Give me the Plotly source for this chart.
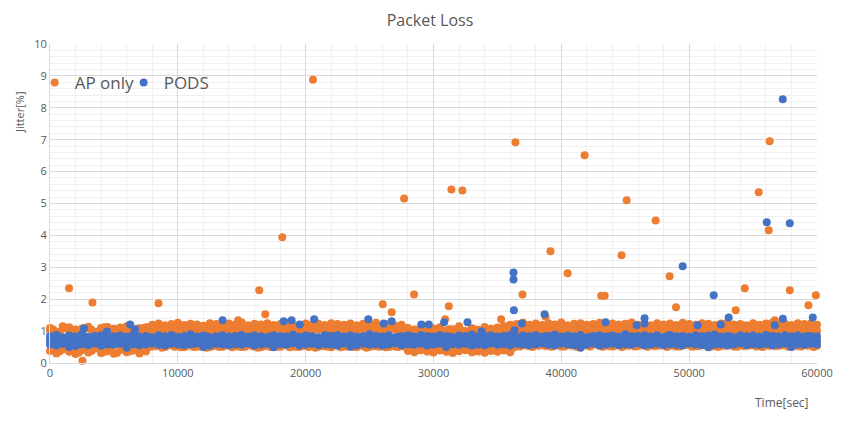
"""
packet_loss.py
--------------
Jitter scatter over a 60000 s run: AP only vs PODS.
"""

import plotly.graph_objects as go

# ── DATA ──────────────────────────────────────────────────────────────────────

# sampling instants of the dense band (sec): two interleaved schedules
TIMES   = list(range(0, 60001, 500))
TIMES_S = list(range(250, 60000, 500))

# AP only – dense band readings
ap_low = [
    0.38, 0.30, 0.42, 0.35, 0.28, 0.40, 0.33, 0.45, 0.31, 0.37,
    0.29, 0.41, 0.34, 0.39, 0.30, 0.36,
    0.52, 0.55, 0.50, 0.57, 0.53, 0.49, 0.56, 0.52, 0.54, 0.50,
    0.55, 0.51, 0.58, 0.53, 0.50, 0.56, 0.52, 0.49, 0.55, 0.53,
    0.51, 0.57, 0.52, 0.50, 0.54, 0.56, 0.51, 0.53, 0.49, 0.55,
    0.52, 0.57, 0.50, 0.54, 0.51, 0.53, 0.56, 0.50, 0.52, 0.55,
    0.38, 0.34, 0.40, 0.36, 0.33, 0.39, 0.35, 0.31, 0.37, 0.40,
    0.34, 0.36, 0.32, 0.38, 0.35, 0.39, 0.34,
    0.55, 0.58, 0.53, 0.56, 0.60, 0.54, 0.57, 0.52, 0.58, 0.55,
    0.53, 0.57, 0.59, 0.54, 0.56, 0.52, 0.58, 0.55, 0.57, 0.53,
    0.56, 0.60, 0.54, 0.57, 0.55, 0.52, 0.58, 0.56, 0.53, 0.57,
    0.55, 0.59, 0.54, 0.56, 0.52, 0.58, 0.55, 0.57, 0.53, 0.56,
    0.58, 0.54, 0.57, 0.55, 0.53, 0.59, 0.56, 0.54,
]
ap_mid = [
    1.02, 0.95, 1.08, 0.98, 1.05, 0.92, 1.10, 0.97, 1.03, 0.94,
    1.07, 0.99, 0.93, 1.06, 1.00, 1.04,
    1.00, 1.05, 0.97, 1.03, 0.99, 1.06, 0.96, 1.02, 1.04, 0.98,
    1.01, 0.97, 1.05, 1.00, 1.03, 0.96, 1.04, 0.99, 1.02, 0.98,
    1.06, 1.00, 0.97, 1.03, 1.01, 0.99, 1.05, 0.96, 1.02, 1.00,
    1.04, 0.98, 1.01, 1.06, 0.97, 1.03, 0.99, 1.02, 1.05, 0.98,
    0.95, 1.00, 0.93, 0.98, 1.02, 0.94, 0.97, 1.01, 0.92, 0.99,
    0.96, 1.03, 0.94, 0.98, 1.00, 0.95, 1.02,
    1.02, 0.99, 1.05, 1.01, 0.98, 1.04, 1.00, 1.03, 0.97, 1.06,
    1.01, 0.99, 1.04, 1.02, 0.98, 1.05, 1.00, 1.03, 0.99, 1.02,
    1.06, 0.98, 1.01, 1.04, 1.00, 0.97, 1.03, 1.05, 0.99, 1.02,
    1.00, 1.04, 0.98, 1.03, 1.01, 1.06, 0.99, 1.02, 1.04, 1.00,
    0.98, 1.05, 1.01, 1.03, 0.99, 1.04, 1.02, 1.00,
]
ap_top = [
    1.10, 0.90, 1.15, 1.12, 0.95, 1.08, 1.14, 0.88, 1.10, 1.13,
    0.92, 1.11, 1.15, 0.90, 1.09, 1.12,
    1.20, 1.24, 1.18, 1.22, 1.26, 1.19, 1.23, 1.21, 1.17, 1.25,
    1.22, 1.19, 1.24, 1.20, 1.27, 1.18, 1.23, 1.21, 1.25, 1.19,
    1.22, 1.26, 1.20, 1.18, 1.24, 1.21, 1.23, 1.19, 1.25, 1.22,
    1.20, 1.24, 1.18, 1.23, 1.21, 1.26, 1.19, 1.22, 1.17, 1.20,
    1.10, 1.05, 1.14, 0.98, 1.08, 1.12, 1.02, 1.06, 1.15, 1.00,
    1.09, 1.04, 1.13, 1.07, 1.11, 1.16, 1.20,
    1.22, 1.26, 1.20, 1.24, 1.19, 1.25, 1.21, 1.27, 1.18, 1.23,
    1.25, 1.20, 1.22, 1.26, 1.19, 1.24, 1.21, 1.23, 1.27, 1.20,
    1.22, 1.18, 1.25, 1.21, 1.24, 1.19, 1.26, 1.22, 1.20, 1.25,
    1.23, 1.19, 1.24, 1.27, 1.21, 1.22, 1.18, 1.25, 1.20, 1.24,
    1.26, 1.21, 1.23, 1.19, 1.25, 1.22, 1.24, 1.20,
]
# readings on the interleaved schedule
ap_low_s = [
    0.45, 0.36, 0.48, 0.40, 0.33, 0.43, 0.38, 0.47, 0.35, 0.41,
    0.32, 0.44, 0.37, 0.42, 0.46,
    0.50, 0.53, 0.48, 0.55, 0.51, 0.49, 0.54, 0.50, 0.52, 0.48,
    0.53, 0.50, 0.55, 0.49, 0.52, 0.51, 0.54, 0.48, 0.53, 0.50,
    0.52, 0.55, 0.49, 0.51, 0.54, 0.50, 0.48, 0.53, 0.51, 0.55,
    0.49, 0.52, 0.50, 0.54, 0.48, 0.53, 0.51, 0.49, 0.55, 0.50, 0.52,
    0.44, 0.40, 0.46, 0.38, 0.43, 0.41, 0.47, 0.39, 0.45, 0.42,
    0.37, 0.44, 0.40, 0.46, 0.41, 0.43, 0.48,
    0.52, 0.55, 0.50, 0.54, 0.53, 0.51, 0.56, 0.52, 0.55, 0.50,
    0.54, 0.52, 0.57, 0.51, 0.53, 0.55, 0.50, 0.54, 0.52, 0.56,
    0.51, 0.53, 0.55, 0.50, 0.54, 0.52, 0.57, 0.51, 0.53, 0.55,
    0.52, 0.50, 0.54, 0.56, 0.51, 0.53, 0.55, 0.52, 0.50, 0.54,
    0.53, 0.56, 0.51, 0.55, 0.52, 0.54, 0.50,
]
ap_up_s = [
    1.05, 0.98, 1.10, 1.02, 0.96, 1.08, 1.04, 0.99, 1.12, 1.00,
    0.97, 1.06, 1.03, 0.95, 1.09,
    1.12, 1.15, 1.09, 1.14, 1.11, 1.16, 1.10, 1.13, 1.08, 1.15,
    1.12, 1.10, 1.14, 1.17, 1.11, 1.09, 1.13, 1.16, 1.10, 1.12,
    1.15, 1.11, 1.08, 1.14, 1.12, 1.16, 1.09, 1.13, 1.11, 1.15,
    1.10, 1.14, 1.12, 1.08, 1.16, 1.11, 1.13, 1.09, 1.15, 1.12, 1.10,
    1.00, 0.96, 1.04, 0.98, 1.02, 0.95, 1.06, 0.99, 1.01, 0.97,
    1.05, 0.98, 1.03, 0.96, 1.08, 1.12, 1.10,
    1.13, 1.16, 1.10, 1.14, 1.12, 1.17, 1.09, 1.15, 1.11, 1.13,
    1.16, 1.10, 1.14, 1.12, 1.18, 1.11, 1.13, 1.09, 1.15, 1.12,
    1.14, 1.17, 1.10, 1.13, 1.11, 1.16, 1.12, 1.09, 1.15, 1.13,
    1.11, 1.14, 1.17, 1.10, 1.12, 1.15, 1.13, 1.09, 1.16, 1.11,
    1.14, 1.12, 1.10, 1.15, 1.13, 1.17, 1.11,
]

# AP only – isolated readings
ap_out_x = [1490, 2540, 3320, 8490, 14720, 16370, 16840, 18170, 20570, 26030,
            26730, 27700, 28480, 30910, 31200, 31400, 32260, 35290, 36410, 36960,
            38760, 39150, 40490, 41820, 43120, 43390, 44710, 45110, 47380, 48470,
            48970, 53640, 54350, 55440, 56220, 56300, 56700, 57870, 59330, 59910]
ap_out_y = [2.34, 0.07, 1.90, 1.87, 1.34, 2.28, 1.53, 3.94, 8.88, 1.84,
            1.59, 5.16, 2.15, 1.37, 1.78, 5.44, 5.41, 1.37, 6.92, 2.15,
            1.45, 3.50, 2.81, 6.51, 2.11, 2.11, 3.38, 5.10, 4.47, 2.72,
            1.75, 1.65, 2.34, 5.35, 4.16, 6.95, 1.34, 2.28, 1.81, 2.12]

# PODS – dense band readings
pods_low = [
    0.58, 0.55, 0.60, 0.50, 0.53, 0.59, 0.56, 0.61, 0.54, 0.58,
    0.57, 0.60, 0.48, 0.59, 0.56, 0.58, 0.61, 0.57, 0.55, 0.60,
    0.58, 0.56, 0.59, 0.62, 0.50, 0.55, 0.60, 0.58, 0.56, 0.59,
    0.57, 0.61, 0.55, 0.58, 0.60, 0.49, 0.59, 0.57, 0.62, 0.55,
    0.58, 0.60, 0.56, 0.59, 0.57, 0.55, 0.61, 0.51, 0.56, 0.60,
    0.57, 0.59, 0.55, 0.58, 0.62, 0.56, 0.59, 0.57, 0.60, 0.55,
    0.58, 0.61, 0.50, 0.59, 0.57, 0.60, 0.55, 0.58, 0.56, 0.61,
    0.57, 0.59, 0.55, 0.60, 0.58, 0.56, 0.59, 0.62, 0.57, 0.55,
    0.60, 0.58, 0.56, 0.48, 0.57, 0.61, 0.55, 0.58, 0.60, 0.56,
    0.59, 0.57, 0.62, 0.55, 0.58, 0.60, 0.56, 0.59, 0.57, 0.55,
    0.61, 0.58, 0.56, 0.49, 0.57, 0.59, 0.55, 0.58, 0.62, 0.56,
    0.59, 0.57, 0.60, 0.55, 0.58, 0.61, 0.50, 0.59, 0.57, 0.60,
    0.58,
]
pods_mid = [
    0.71, 0.68, 0.74, 0.70, 0.72, 0.67, 0.73, 0.69, 0.75, 0.71,
    0.70, 0.73, 0.68, 0.72, 0.74, 0.69, 0.71, 0.75, 0.70, 0.67,
    0.72, 0.74, 0.69, 0.71, 0.73, 0.68, 0.70, 0.75, 0.72, 0.69,
    0.71, 0.67, 0.74, 0.70, 0.72, 0.73, 0.68, 0.71, 0.69, 0.74,
    0.70, 0.72, 0.75, 0.68, 0.71, 0.73, 0.69, 0.70, 0.74, 0.72,
    0.67, 0.71, 0.73, 0.70, 0.68, 0.74, 0.72, 0.69, 0.71, 0.75,
    0.70, 0.68, 0.73, 0.71, 0.69, 0.74, 0.72, 0.70, 0.67, 0.73,
    0.71, 0.75, 0.69, 0.72, 0.70, 0.68, 0.74, 0.71, 0.73, 0.69,
    0.72, 0.70, 0.67, 0.74, 0.71, 0.73, 0.69, 0.75, 0.70, 0.72,
    0.68, 0.71, 0.74, 0.69, 0.73, 0.70, 0.72, 0.67, 0.71, 0.74,
    0.70, 0.73, 0.69, 0.72, 0.75, 0.68, 0.71, 0.70, 0.74, 0.72,
    0.69, 0.73, 0.71, 0.67, 0.70, 0.74, 0.72, 0.69, 0.71, 0.73,
    0.70,
]
pods_top = [
    0.84, 0.88, 0.81, 0.86, 0.83, 0.90, 0.82, 0.85, 0.87, 0.80,
    0.84, 0.86, 0.82, 0.89, 0.83, 0.85, 0.81, 0.87, 0.84, 0.88,
    0.82, 0.85, 0.90, 0.83, 0.86, 0.81, 0.84, 0.87, 0.83, 0.85,
    0.88, 0.82, 0.86, 0.84, 0.80, 0.87, 0.85, 0.83, 0.89, 0.82,
    0.86, 0.84, 0.81, 0.87, 0.85, 0.88, 0.83, 0.86, 0.82, 0.84,
    0.90, 0.85, 0.83, 0.87, 0.81, 0.84, 0.86, 0.82, 0.88, 0.85,
    0.83, 0.87, 0.84, 0.80, 0.86, 0.85, 0.89, 0.82, 0.84, 0.87,
    0.83, 0.85, 0.88, 0.81, 0.86, 0.84, 0.87, 0.82, 0.85, 0.89,
    0.83, 0.86, 0.84, 0.88, 0.81, 0.85, 0.87, 0.83, 0.86, 0.82,
    0.90, 0.84, 0.85, 0.87, 0.83, 0.86, 0.81, 0.88, 0.84, 0.85,
    0.82, 0.87, 0.84, 0.86, 0.89, 0.83, 0.85, 0.81, 0.87, 0.84,
    0.86, 0.82, 0.88, 0.85, 0.83, 0.87, 0.84, 0.86, 0.82, 0.85,
    0.84,
]
# readings on the interleaved schedule
pods_lo_s = [
    0.64, 0.61, 0.66, 0.63, 0.60, 0.65, 0.62, 0.67, 0.64, 0.61,
    0.63, 0.66, 0.60, 0.65, 0.62, 0.64, 0.67, 0.61, 0.63, 0.66,
    0.62, 0.64, 0.60, 0.65, 0.63, 0.67, 0.61, 0.64, 0.62, 0.66,
    0.63, 0.60, 0.65, 0.64, 0.61, 0.67, 0.62, 0.63, 0.66, 0.60,
    0.64, 0.62, 0.65, 0.61, 0.63, 0.67, 0.64, 0.60, 0.66, 0.62,
    0.63, 0.65, 0.61, 0.64, 0.66, 0.62, 0.60, 0.65, 0.63, 0.67,
    0.61, 0.64, 0.62, 0.66, 0.63, 0.60, 0.65, 0.64, 0.61, 0.67,
    0.62, 0.63, 0.66, 0.60, 0.64, 0.62, 0.65, 0.61, 0.63, 0.67,
    0.64, 0.60, 0.66, 0.62, 0.63, 0.65, 0.61, 0.64, 0.67, 0.62,
    0.63, 0.66, 0.60, 0.65, 0.62, 0.64, 0.61, 0.67, 0.63, 0.65,
    0.62, 0.64, 0.60, 0.66, 0.63, 0.61, 0.65, 0.64, 0.62, 0.67,
    0.63, 0.60, 0.65, 0.62, 0.64, 0.66, 0.61, 0.63, 0.65, 0.62,
]
pods_hi_s = [
    0.78, 0.81, 0.76, 0.80, 0.77, 0.83, 0.75, 0.79, 0.82, 0.77,
    0.80, 0.76, 0.79, 0.84, 0.78, 0.81, 0.75, 0.80, 0.77, 0.82,
    0.79, 0.76, 0.81, 0.78, 0.83, 0.77, 0.80, 0.75, 0.79, 0.82,
    0.78, 0.81, 0.76, 0.80, 0.84, 0.77, 0.79, 0.82, 0.78, 0.75,
    0.81, 0.79, 0.77, 0.83, 0.80, 0.76, 0.78, 0.82, 0.79, 0.81,
    0.77, 0.80, 0.75, 0.79, 0.82, 0.78, 0.84, 0.76, 0.80, 0.81,
    0.78, 0.77, 0.82, 0.79, 0.75, 0.81, 0.80, 0.78, 0.83, 0.76,
    0.79, 0.82, 0.77, 0.80, 0.78, 0.81, 0.76, 0.84, 0.79, 0.77,
    0.80, 0.78, 0.82, 0.75, 0.81, 0.79, 0.77, 0.83, 0.80, 0.78,
    0.76, 0.81, 0.79, 0.82, 0.77, 0.80, 0.84, 0.78, 0.75, 0.81,
    0.79, 0.77, 0.82, 0.80, 0.78, 0.76, 0.83, 0.79, 0.81, 0.77,
    0.80, 0.78, 0.75, 0.82, 0.79, 0.81, 0.77, 0.80, 0.84, 0.78,
]

# PODS – isolated readings
pods_out_x = [2660, 4460, 6270, 6660, 13500, 18280, 18900, 19530, 20670, 24900,
              26110, 26730, 29050, 29630, 30830, 32660, 33760, 36260, 36260, 36290,
              36340, 36910, 38690, 43460, 45890, 46510, 46510, 49490, 50660, 51920,
              52470, 53090, 56070, 56700, 57320, 57330, 57870, 59670]
pods_out_y = [1.09, 0.99, 1.21, 1.06, 1.34, 1.31, 1.34, 1.21, 1.37, 1.37,
              1.24, 1.31, 1.21, 1.21, 1.28, 1.28, 0.99, 2.84, 2.62, 1.65,
              1.03, 1.24, 1.53, 1.28, 1.18, 1.40, 1.24, 3.03, 1.18, 2.12,
              1.21, 1.43, 4.41, 1.18, 8.27, 1.39, 4.38, 1.43]

ORANGE = "#ED7D31"
BLUE   = "#4472C4"
GREY   = "#595959"

# page body keeps its default 8px margin, so the figure is drawn 8px smaller
FIG_W = 852 - 8
FIG_H = 422 - 8

# ── FIGURE ────────────────────────────────────────────────────────────────────

def collect(rows, out_x, out_y):
    xs, ys = [], []
    for times, row in rows:
        xs += times[:len(row)]
        ys += row
    return xs + out_x, ys + out_y


fig = go.Figure()

series = [
    ("AP only",
     [(TIMES, ap_low), (TIMES_S, ap_low_s), (TIMES, ap_mid), (TIMES_S, ap_up_s), (TIMES, ap_top)],
     ap_out_x, ap_out_y, ORANGE),
    ("PODS",
     [(TIMES, pods_low), (TIMES_S, pods_lo_s), (TIMES, pods_mid), (TIMES_S, pods_hi_s), (TIMES, pods_top)],
     pods_out_x, pods_out_y, BLUE),
]

for name, rows, ox, oy, colour in series:
    x, y = collect(rows, ox, oy)
    fig.add_trace(go.Scatter(
        x=x, y=y,
        mode="markers",
        name=name,
        marker=dict(size=8, color=colour, line=dict(width=0)),
        cliponaxis=False,
    ))

fig.add_annotation(
    x=-0.039, y=0.787, xref="paper", yref="paper",
    xanchor="center", yanchor="middle",
    text="Jitter[%]", textangle=-90, showarrow=False,
    font=dict(size=11, color=GREY),
)
fig.add_annotation(
    x=0.954, y=-0.125, xref="paper", yref="paper",
    xanchor="center", yanchor="middle",
    text="Time[sec]", showarrow=False,
    font=dict(size=12, color=GREY),
)

fig.update_layout(
    width=FIG_W, height=FIG_H,
    margin=dict(l=42, r=35, t=36, b=59, autoexpand=False),
    plot_bgcolor="white", paper_bgcolor="white",
    font=dict(family="Open Sans", size=11, color=GREY),
    title=dict(text="Packet Loss", x=0.5, xanchor="center", y=0.971, yanchor="middle",
               font=dict(size=16, color=GREY)),
    xaxis=dict(
        range=[0, 60000], dtick=10000, tickformat="d",
        showgrid=True, gridcolor="#d9d9d9", gridwidth=1,
        minor=dict(dtick=2000, showgrid=True, gridcolor="#f0f0f0"),
        showline=True, linecolor="#d9d9d9", zeroline=False, ticks="",
    ),
    yaxis=dict(
        range=[0, 10], dtick=1,
        showgrid=True, gridcolor="#d9d9d9", gridwidth=1,
        minor=dict(dtick=0.2, showgrid=True, gridcolor="#f0f0f0"),
        showline=True, linecolor="#d9d9d9", zeroline=False, ticks="",
    ),
    showlegend=True,
    legend=dict(
        orientation="h", x=-0.02, xanchor="left", y=0.878, yanchor="middle",
        font=dict(size=17, color=GREY), bgcolor="rgba(0,0,0,0)",
        itemwidth=30, entrywidth=44,
    ),
)

fig.write_html("out.html")
